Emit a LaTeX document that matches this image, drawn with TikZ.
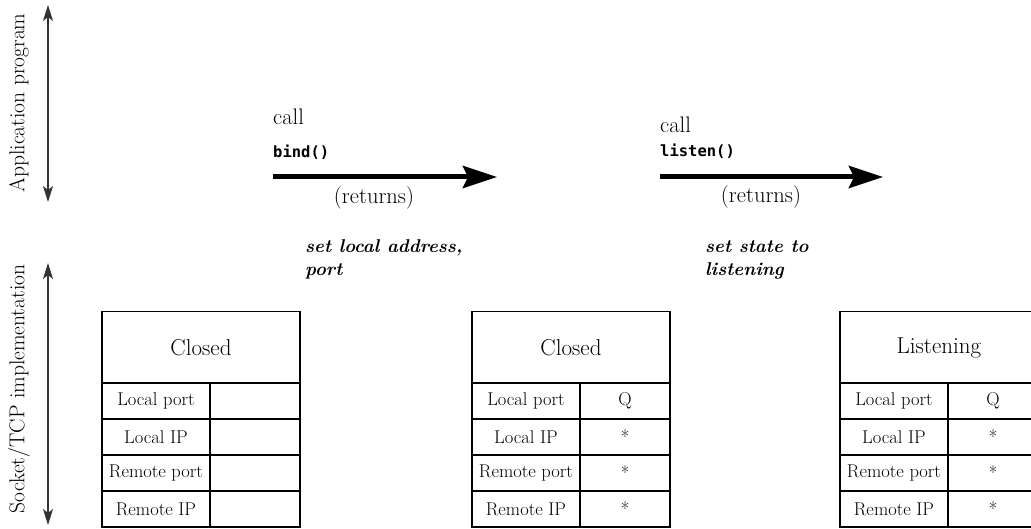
\documentclass[tikz,border=0pt]{standalone}
\usepackage{fontspec}
\setmainfont{Latin Modern Roman}
\newfontfamily\codefont{DejaVu Sans Mono}
\usetikzlibrary{arrows.meta}
\tikzset{
  sidelbl/.style={rotate=90,inner sep=0pt,font=\fontsize{21.5}{24}\selectfont},
  sidearrow/.style={draw=black!80,line width=1.3pt,{Stealth[length=16pt,width=10pt,inset=4pt]}-{Stealth[length=16pt,width=10pt,inset=4pt]}},
  callarrow/.style={draw=black,line width=5pt,-{Stealth[length=34pt,width=22pt,inset=5pt]}},
  plain/.style={inner sep=0pt,font=\fontsize{22.5}{26}\selectfont},
  code/.style={inner sep=0pt,font=\codefont\bfseries\fontsize{15.5}{18}\selectfont},
  action/.style={inner sep=0pt,align=left,font=\bfseries\itshape\fontsize{18.5}{23}\selectfont},
  header/.style={draw=black,line width=1.5pt,minimum width=198pt,minimum height=71.5pt,inner sep=0pt,font=\fontsize{23}{26}\selectfont},
  namecell/.style={draw=black,line width=1.5pt,minimum width=108pt,minimum height=36pt,inner sep=0pt,font=\fontsize{18.5}{21}\selectfont},
  valcell/.style={draw=black,line width=1.5pt,minimum width=90pt,minimum height=36pt,inner sep=0pt,font=\fontsize{18.5}{21}\selectfont}
}
\begin{document}
\begin{tikzpicture}[x=1pt,y=-1pt]
\useasboundingbox (0,0) rectangle (1031,529);
\clip (0,0) rectangle (1031,529);
% side labels
\node[sidelbl] (app) at (19,103) {Application program};
\coordinate (a1t) at (48,5);
\coordinate (a1b) at (48,202);
\draw[sidearrow] (a1t) -- (a1b);
\node[sidelbl] (sock) at (19,389) {Socket/TCP implementation};
\coordinate (a2t) at (48,263);
\coordinate (a2b) at (48,525);
\draw[sidearrow] (a2t) -- (a2b);
% bind call
\node[plain,anchor=west] (call1) at (273,117) {call};
\node[code,anchor=west] (bind) at (273,152) {bind()};
\coordinate (b1s) at (273,177);
\coordinate (b1e) at (497,177);
\draw[callarrow] (b1s) -- (b1e);
\node[plain] (ret1) at (374,198) {(returns)};
% listen call
\node[plain,anchor=west] (call2) at (660,125) {call};
\node[code,anchor=west] (listen) at (660,151) {listen()};
\coordinate (b2s) at (660,177);
\coordinate (b2e) at (883,177);
\draw[callarrow] (b2s) -- (b2e);
\node[plain] (ret2) at (761,197) {(returns)};
% actions
\node[action,anchor=base west] (act1) at (305,276) {set local address,\\port};
\node[action,anchor=base west] (act2) at (705,276) {set state to\\listening};
% box 1
\node[header] (h1) at (201,347.5) {Closed};
\node[namecell] (n11) at (156,401) {Local port};
\node[namecell] (n12) at (156,437) {Local IP};
\node[namecell] (n13) at (156,473) {Remote port};
\node[namecell] (n14) at (156,509) {Remote IP};
\node[valcell] (v11) at (255,401) {};
\node[valcell] (v12) at (255,437) {};
\node[valcell] (v13) at (255,473) {};
\node[valcell] (v14) at (255,509) {};
% box 2
\node[header] (h2) at (571,347.5) {Closed};
\node[namecell] (n21) at (526,401) {Local port};
\node[namecell] (n22) at (526,437) {Local IP};
\node[namecell] (n23) at (526,473) {Remote port};
\node[namecell] (n24) at (526,509) {Remote IP};
\node[valcell] (v21) at (625,401) {Q};
\node[valcell] (v22) at (625,437) {*};
\node[valcell] (v23) at (625,473) {*};
\node[valcell] (v24) at (625,509) {*};
% box 3
\node[header] (h3) at (939,347.5) {Listening};
\node[namecell] (n31) at (894,401) {Local port};
\node[namecell] (n32) at (894,437) {Local IP};
\node[namecell] (n33) at (894,473) {Remote port};
\node[namecell] (n34) at (894,509) {Remote IP};
\node[valcell] (v31) at (993,401) {Q};
\node[valcell] (v32) at (993,437) {*};
\node[valcell] (v33) at (993,473) {*};
\node[valcell] (v34) at (993,509) {*};
\end{tikzpicture}
\end{document}
